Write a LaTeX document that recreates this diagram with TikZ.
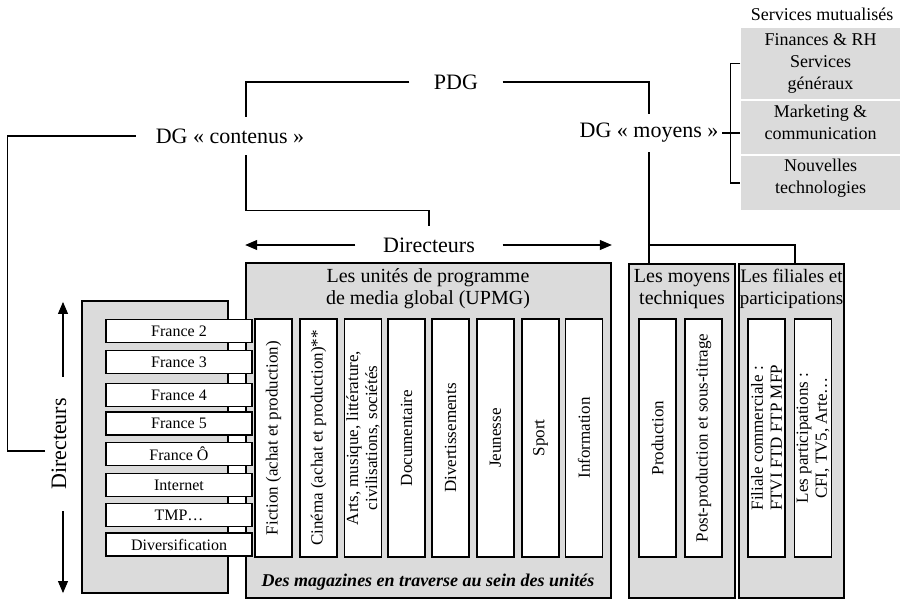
\documentclass[tikz,border=0pt]{standalone}
\usepackage{fontspec}
\setmainfont{Liberation Serif}
\usetikzlibrary{arrows.meta}

\begin{document}
\begin{tikzpicture}[x=1pt,y=-1pt,line width=1.1pt,
        boite/.style={draw,line width=1.6pt,fill=fond,minimum height=334pt},
        case/.style={draw,line width=1.3pt,fill=white,inner sep=1pt},
        chaine/.style={case,minimum width=146pt,minimum height=23pt,font=\fontsize{16}{18}\selectfont},
        colonne/.style={case,rotate=90,minimum width=238pt,minimum height=37pt,align=center,font=\fontsize{17}{19}\selectfont},
        serv/.style={fill=fond,minimum width=159pt},
        servtxt/.style={align=center,font=\fontsize{18}{22}\selectfont},
        titre/.style={align=center,font=\fontsize{20}{22}\selectfont},
        grand/.style={font=\fontsize{22}{24}\selectfont},
        fleche/.style={-{Triangle[length=12pt,width=10pt]}}]
        %couleurs
        \colorlet{fond}{black!14}
        \useasboundingbox (0,0) rectangle (900,600);

        % Direction
        \node[grand,minimum width=92pt] (pdg) at (456,82) {PDG};
        \node[grand,minimum width=186pt,minimum height=37pt] (dgc) at (230,136) {DG « contenus »};
        \node[grand,minimum width=144pt,minimum height=37pt] (dgm) at (649,133) {DG « moyens »};
        \node[grand,minimum width=146pt,minimum height=36pt] (dir) at (429,245) {Directeurs};
        \node[grand,rotate=90,minimum width=133pt,inner sep=6pt] (dirg) at (59,444) {Directeurs};

        % Services mutualises
        \node[font=\fontsize{18}{20}\selectfont] (smut) at (822,14) {Services mutualisés};
        \node[serv,minimum height=71pt] (s1) at (820.5,63.5) {};
        \node[serv,minimum height=53pt] (s2) at (820.5,127.5) {};
        \node[serv,minimum height=54pt] (s3) at (820.5,183) {};
        \foreach \s/\d/\txt in {s1/0/{Finances \& RH\\Services\\généraux},s2/5/{Marketing \&\\communication},s3/5/{Nouvelles\\technologies}}
        \node[servtxt] (t\s) at ([yshift=\d pt]\s) {\txt};

        % Boites grises
        \node[boite,minimum width=146pt,minimum height=292pt] (chaines) at (155,447) {};
        \node[boite,minimum width=365pt,minimum height=335pt] (upmg) at (428.5,430.5) {};
        \node[boite,minimum width=106pt] (moy) at (682,431) {};
        \node[boite,minimum width=105pt] (fil) at (791.5,431) {};

        % Titres
        \node[titre] (tupmg) at (428,289) {Les unités de programme\\de media global (UPMG)};
        \node[titre] (tmoy) at (682,289) {Les moyens\\techniques};
        \node[titre,font=\fontsize{19}{22}\selectfont] (tfil) at (791.5,289) {Les filiales et\\participations};
        \node[font=\fontsize{18}{20}\selectfont\bfseries\itshape] (mag) at (428,582) {Des magazines en traverse au sein des unités};

        % Chaines
        \foreach \y/\nom [count=\i] in {331/France 2,362/France 3,395/France 4,423.5/France 5,454/France Ô,485/Internet,515/TMP…,544.5/Diversification}
        \node[chaine] (ch\i) at (179,\y) {\nom};

        % Colonnes
        \foreach \x/\txt [count=\i] in {273.5/{Fiction (achat et production)},318.5/{Cinéma (achat et production)**},363/{Arts, musique, littérature,\\civilisations, sociétés},406.5/Documentaire,450.5/Divertissements,495.5/Jeunesse,540.5/Sport,584/Information,657.5/Production,703.5/{Post-production et sous-titrage},766.5/{Filiale commerciale :\\FTVI FTD FTP MFP},813/{Les participations :\\CFI, TV5, Arte…}}
        \node[colonne] (col\i) at (\x,438) {\txt};

        % Liens
        \draw (pdg.west) -| ([xshift=16pt]dgc.north);
        \draw (pdg.east) -| (dgm.north);
        \draw ([xshift=16pt]dgc.south) -- ++(0,55) -| (dir.north);
        \draw ([yshift=-7pt]dirg.north) -| ([xshift=-129pt]dgc.west) -- (dgc.west);
        \draw[fleche] (dir.west) -- (dir.west -| upmg.west);
        \draw[fleche] (dir.east) -- (dir.east -| upmg.east);
        \draw[fleche] ([xshift=4pt]dirg.east) -- ++(0,-75);
        \draw[fleche] ([xshift=4pt]dirg.west) -- ++(0,82);
        \draw (dgm.east) -- (dgm.east -| s2.west);
        \draw (s1.west) -- ++(-10,0) |- (s3.west);
        \draw (dgm.south) -- (dgm.south |- moy.north);
        \draw (dgm.south |- dir) -| ([xshift=3.5pt]fil.north);
    \end{tikzpicture}
\end{document}
